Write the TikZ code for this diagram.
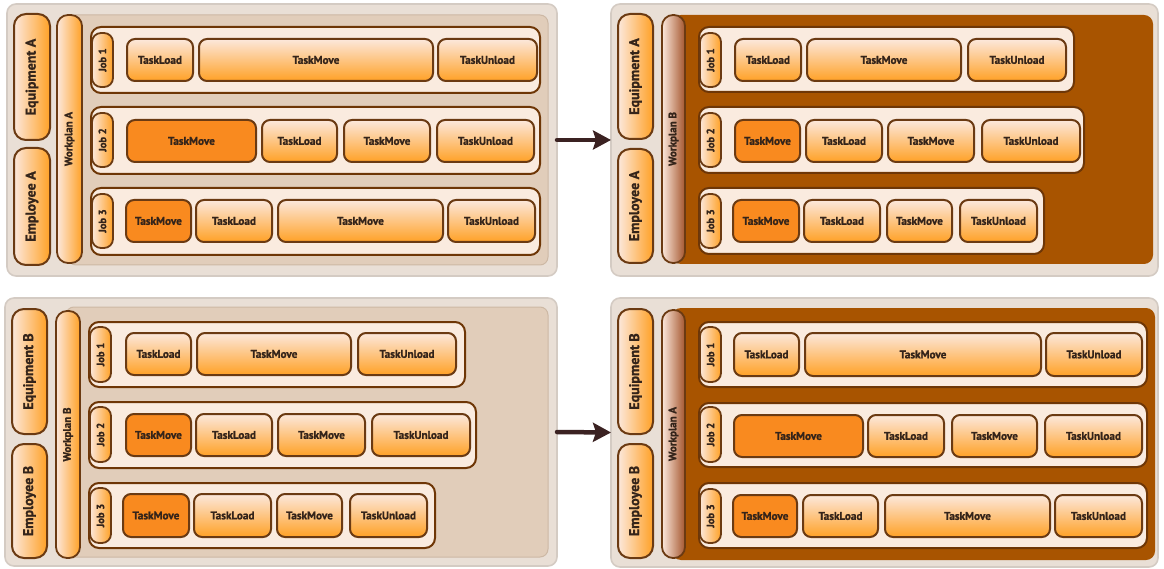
\documentclass[tikz,border=0pt]{standalone}
\usepackage{fontspec}
\setmainfont{PT Sans}[BoldFeatures={FakeBold=1.3}]
\usetikzlibrary{arrows.meta}

\definecolor{ink}{HTML}{34241A}
\definecolor{panelfill}{HTML}{E9DFD6}
\definecolor{paneledge}{HTML}{D4CBC3}
\definecolor{innerfill}{HTML}{E1CDBA}
\definecolor{inneredge}{HTML}{CDB8A4}
\definecolor{plantbrown}{HTML}{A85400}
\definecolor{rowfill}{HTML}{FAEBDF}
\definecolor{rowedge}{HTML}{6E3606}
\definecolor{pale}{HTML}{FCE8DC}
\definecolor{paleorange}{HTML}{FCC890}
\definecolor{orange}{HTML}{FFA126}
\definecolor{hot}{HTML}{F98A1F}
\definecolor{boxedge}{HTML}{6B3A12}
\definecolor{planbrown}{HTML}{A4562E}
\definecolor{arrowink}{HTML}{3B2222}

% a box given by its corners (x1,y1)-(x2,y2), drawn as a named node
\newcommand\rbox[7]{%
  \pgfmathsetmacro\rbw{#5-#3}%
  \pgfmathsetmacro\rbh{#6-#4}%
  \node[#2, minimum width=\rbw pt, minimum height=\rbh pt] (#1) at ({(#3+#5)/2},{(#4+#6)/2}) {#7};%
}
\newcommand\vlabel[1]{\rotatebox{90}{#1}}

\tikzset{
  base/.style={inner sep=0pt, outer sep=0pt, text=ink, font=\bfseries},
  outerpanel/.style={base, rounded corners=9pt, fill=panelfill, draw=paneledge, line width=1.6pt},
  innerpanel/.style={base, rounded corners=8pt, fill=innerfill, draw=inneredge, line width=1pt},
  plantpanel/.style={base, rounded corners=9pt, fill=plantbrown},
  jobrow/.style={base, rounded corners=10pt, fill=rowfill, draw=rowedge, line width=2pt},
  task/.style={base, rounded corners=8pt, top color=pale, middle color=paleorange, bottom color=orange,
    draw=boxedge, line width=2pt, font=\bfseries\fontsize{11.2}{13}\selectfont},
  hottask/.style={task, fill=hot, top color=hot, middle color=hot, bottom color=hot},
  resource/.style={base, rounded corners=12pt, left color=pale, right color=orange, draw=boxedge,
    line width=2pt, font=\bfseries\fontsize{14}{16}\selectfont},
  joblabel/.style={base, rounded corners=9pt, left color=pale, right color=orange, draw=boxedge,
    line width=1.8pt, font=\bfseries\fontsize{10.5}{12}\selectfont},
  planbar/.style={base, rounded corners=11pt, left color=pale, right color=orange, draw=boxedge,
    line width=1.8pt, font=\bfseries\fontsize{11}{13}\selectfont},
  planbarswap/.style={planbar, left color=pale, right color=planbrown},
  flow/.style={draw=arrowink, line width=4.5pt, line cap=round,
    -{Stealth[length=18pt, width=19pt, inset=3pt]}},
}

\begin{document}
\begin{tikzpicture}[x=1pt, y=-1pt]
\useasboundingbox (0,0) rectangle (1164,569);

% ---------- Equipment A / Employee A with Workplan A ----------
\rbox{tl}{outerpanel}{7}{4}{557}{276}{}
\rbox{tl-in}{innerpanel}{68}{15}{548}{265}{}
\rbox{tl-eq}{resource}{14}{14}{50}{140}{\vlabel{Equipment A}}
\rbox{tl-emp}{resource}{14}{148}{50}{265}{\vlabel{Employee A}}
\rbox{tl-wp}{planbar}{57}{15}{82}{263}{\vlabel{Workplan A}}
\rbox{tl-r1}{jobrow}{91}{27}{540}{93}{}
\rbox{tl-r2}{jobrow}{91}{107}{540}{174}{}
\rbox{tl-r3}{jobrow}{91}{188}{540}{255}{}
\rbox{tl-j1}{joblabel}{92}{33}{113}{87}{\vlabel{Job 1}}
\rbox{tl-j2}{joblabel}{92}{113}{113}{167}{\vlabel{Job 2}}
\rbox{tl-j3}{joblabel}{92}{194}{113}{248}{\vlabel{Job 3}}
\rbox{tl-11}{task}{127}{39}{193}{81}{TaskLoad}
\rbox{tl-12}{task}{199}{39}{433}{81}{TaskMove}
\rbox{tl-13}{task}{438}{39}{537}{81}{TaskUnload}
\rbox{tl-21}{hottask}{127}{120}{256}{162}{TaskMove}
\rbox{tl-22}{task}{262}{120}{337}{162}{TaskLoad}
\rbox{tl-23}{task}{344}{120}{430}{162}{TaskMove}
\rbox{tl-24}{task}{437}{120}{534}{162}{TaskUnload}
\rbox{tl-31}{hottask}{126}{200}{191}{242}{TaskMove}
\rbox{tl-32}{task}{196}{200}{272}{242}{TaskLoad}
\rbox{tl-33}{task}{278}{200}{443}{242}{TaskMove}
\rbox{tl-34}{task}{448}{200}{535}{242}{TaskUnload}

% ---------- Equipment A / Employee A with Workplan B ----------
\rbox{tr}{outerpanel}{611}{4}{1158}{276}{}
\rbox{tr-in}{plantpanel}{672}{15}{1153}{264}{}
\rbox{tr-eq}{resource}{618}{14}{653}{139}{\vlabel{Equipment A}}
\rbox{tr-emp}{resource}{618}{149}{653}{263}{\vlabel{Employee A}}
\rbox{tr-wp}{planbarswap}{662}{15}{685}{263}{\vlabel{Workplan B}}
\rbox{tr-r1}{jobrow}{699}{27}{1074}{92}{}
\rbox{tr-r2}{jobrow}{699}{107}{1084}{173}{}
\rbox{tr-r3}{jobrow}{699}{188}{1044}{254}{}
\rbox{tr-j1}{joblabel}{700}{33}{721}{87}{\vlabel{Job 1}}
\rbox{tr-j2}{joblabel}{700}{113}{721}{167}{\vlabel{Job 2}}
\rbox{tr-j3}{joblabel}{700}{194}{721}{248}{\vlabel{Job 3}}
\rbox{tr-11}{task}{735}{39}{801}{81}{TaskLoad}
\rbox{tr-12}{task}{807}{39}{961}{81}{TaskMove}
\rbox{tr-13}{task}{968}{39}{1066}{81}{TaskUnload}
\rbox{tr-21}{hottask}{735}{120}{800}{162}{TaskMove}
\rbox{tr-22}{task}{806}{120}{882}{162}{TaskLoad}
\rbox{tr-23}{task}{888}{120}{974}{162}{TaskMove}
\rbox{tr-24}{task}{982}{120}{1080}{162}{TaskUnload}
\rbox{tr-31}{hottask}{733}{200}{799}{242}{TaskMove}
\rbox{tr-32}{task}{804}{200}{880}{242}{TaskLoad}
\rbox{tr-33}{task}{887}{200}{952}{242}{TaskMove}
\rbox{tr-34}{task}{960}{200}{1037}{242}{TaskUnload}

% ---------- Equipment B / Employee B with Workplan B ----------
\rbox{bl}{outerpanel}{5}{298}{557}{566}{}
\rbox{bl-in}{innerpanel}{66}{307}{548}{557}{}
\rbox{bl-eq}{resource}{12}{309}{47}{434}{\vlabel{Equipment B}}
\rbox{bl-emp}{resource}{12}{444}{47}{558}{\vlabel{Employee B}}
\rbox{bl-wp}{planbar}{56}{311}{80}{558}{\vlabel{Workplan B}}
\rbox{bl-r1}{jobrow}{89}{322}{465}{387}{}
\rbox{bl-r2}{jobrow}{89}{402}{476}{468}{}
\rbox{bl-r3}{jobrow}{89}{483}{435}{548}{}
\rbox{bl-j1}{joblabel}{90}{327}{111}{382}{\vlabel{Job 1}}
\rbox{bl-j2}{joblabel}{90}{407}{111}{462}{\vlabel{Job 2}}
\rbox{bl-j3}{joblabel}{90}{488}{111}{543}{\vlabel{Job 3}}
\rbox{bl-11}{task}{126}{333}{191}{375}{TaskLoad}
\rbox{bl-12}{task}{197}{333}{351}{375}{TaskMove}
\rbox{bl-13}{task}{358}{333}{456}{375}{TaskUnload}
\rbox{bl-21}{hottask}{126}{414}{191}{456}{TaskMove}
\rbox{bl-22}{task}{196}{414}{272}{456}{TaskLoad}
\rbox{bl-23}{task}{278}{414}{365}{456}{TaskMove}
\rbox{bl-24}{task}{372}{414}{470}{456}{TaskUnload}
\rbox{bl-31}{hottask}{123}{494}{189}{537}{TaskMove}
\rbox{bl-32}{task}{194}{494}{271}{537}{TaskLoad}
\rbox{bl-33}{task}{277}{494}{342}{537}{TaskMove}
\rbox{bl-34}{task}{350}{494}{427}{537}{TaskUnload}

% ---------- Equipment B / Employee B with Workplan A ----------
\rbox{br}{outerpanel}{611}{298}{1158}{567}{}
\rbox{br-in}{plantpanel}{672}{308}{1155}{560}{}
\rbox{br-eq}{resource}{618}{309}{653}{434}{\vlabel{Equipment B}}
\rbox{br-emp}{resource}{618}{444}{653}{558}{\vlabel{Employee B}}
\rbox{br-wp}{planbarswap}{662}{310}{685}{558}{\vlabel{Workplan A}}
\rbox{br-r1}{jobrow}{699}{322}{1147}{387}{}
\rbox{br-r2}{jobrow}{699}{403}{1147}{467}{}
\rbox{br-r3}{jobrow}{699}{483}{1147}{548}{}
\rbox{br-j1}{joblabel}{700}{327}{721}{382}{\vlabel{Job 1}}
\rbox{br-j2}{joblabel}{700}{407}{721}{462}{\vlabel{Job 2}}
\rbox{br-j3}{joblabel}{700}{489}{721}{543}{\vlabel{Job 3}}
\rbox{br-11}{task}{734}{333}{799}{376}{TaskLoad}
\rbox{br-12}{task}{805}{333}{1041}{376}{TaskMove}
\rbox{br-13}{task}{1046}{333}{1142}{376}{TaskUnload}
\rbox{br-21}{hottask}{734}{415}{863}{457}{TaskMove}
\rbox{br-22}{task}{868}{415}{944}{457}{TaskLoad}
\rbox{br-23}{task}{952}{415}{1037}{457}{TaskMove}
\rbox{br-24}{task}{1045}{415}{1142}{457}{TaskUnload}
\rbox{br-31}{hottask}{733}{495}{797}{537}{TaskMove}
\rbox{br-32}{task}{803}{495}{878}{537}{TaskLoad}
\rbox{br-33}{task}{885}{495}{1050}{537}{TaskMove}
\rbox{br-34}{task}{1055}{495}{1142}{537}{TaskUnload}

% ---------- swaps ----------
\draw[flow] (tl.east) -- (tr.west);
\draw[flow] (bl.east) -- (br.west);
\end{tikzpicture}
\end{document}
